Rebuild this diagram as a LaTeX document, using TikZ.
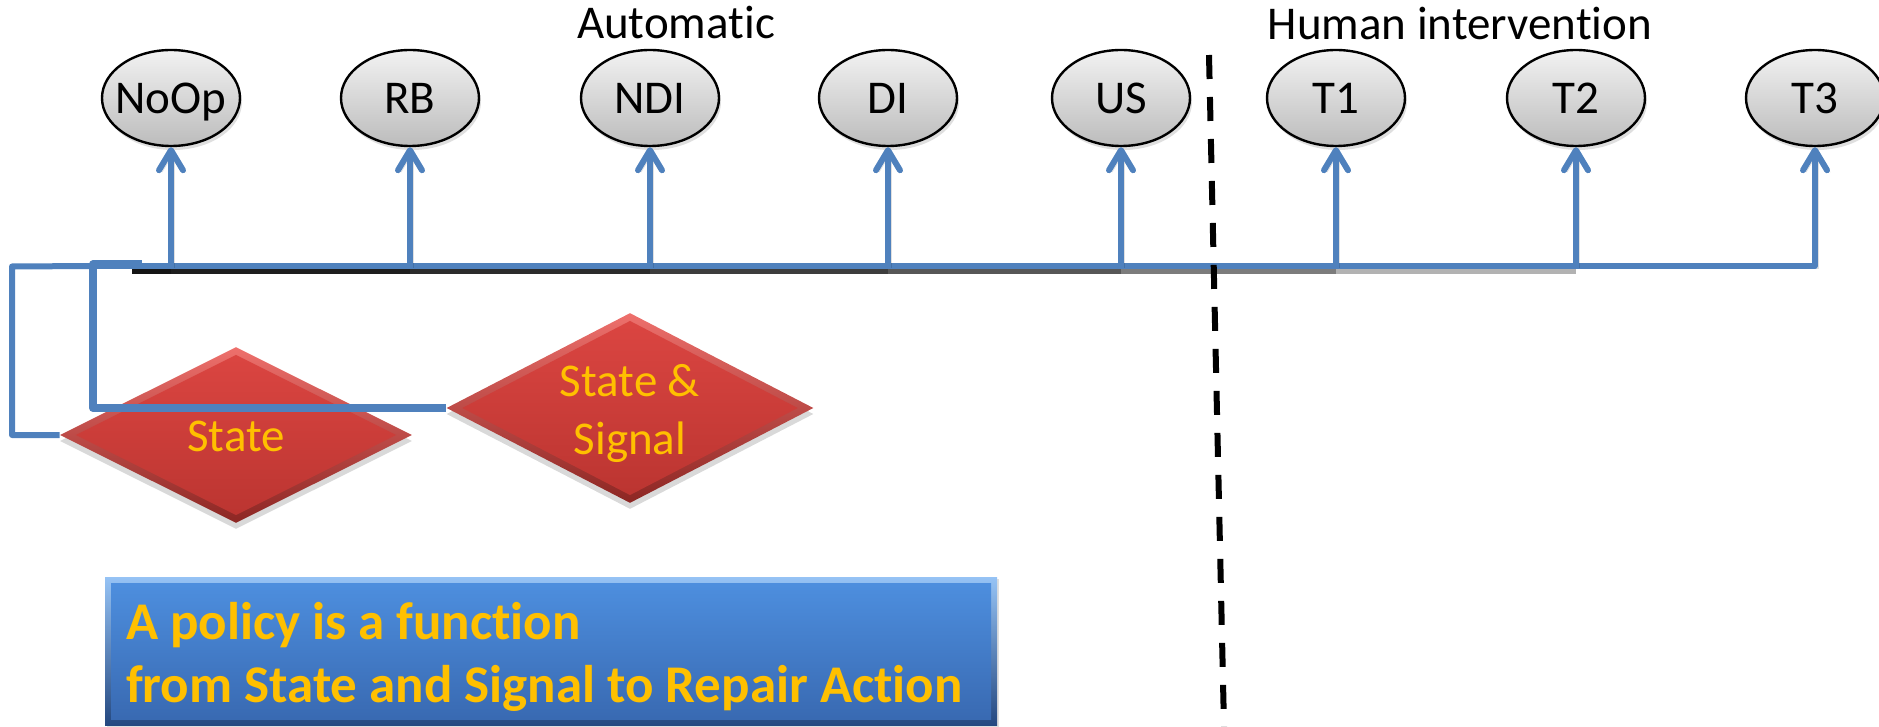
\documentclass[tikz,border=0pt]{standalone}
\usepackage{fontspec}
\setmainfont{Carlito}[Ligatures=NoCommon]
\usetikzlibrary{arrows.meta,shapes.geometric,shadows,calc}

\definecolor{wire}{RGB}{79,129,189}
\definecolor{gold}{RGB}{255,192,0}
\definecolor{redface1}{RGB}{220,70,66}
\definecolor{redface2}{RGB}{186,52,48}
\definecolor{redrim1}{RGB}{238,112,108}
\definecolor{redrim2}{RGB}{140,38,35}
\definecolor{blueface1}{RGB}{78,144,224}
\definecolor{blueface2}{RGB}{56,104,176}
\definecolor{bluerim1}{RGB}{150,195,245}
\definecolor{bluerim2}{RGB}{36,72,128}
\definecolor{grey1}{RGB}{242,242,242}
\definecolor{grey2}{RGB}{188,188,188}

\tikzset{
  % repair actions
  act/.style={ellipse, draw=black, line width=1.2pt,
    top color=grey1, bottom color=grey2,
    minimum width=69pt, minimum height=48pt, inner sep=0pt,
    text height=20pt, text depth=4pt,
    font=\fontsize{23.5}{28}\selectfont,
    drop shadow={opacity=0.25, shadow xshift=1pt, shadow yshift=-2pt}},
  % decision diamonds with a bevelled rim
  cond/.style={diamond, inner sep=0pt, text=gold,
    top color=redrim1, bottom color=redrim2,
    font=\fontsize{23.5}{28.8}\selectfont,
    drop shadow={opacity=0.3, shadow xshift=0pt, shadow yshift=-3pt},
    path picture={
      \shade[top color=redface1, bottom color=redface2]
        ($(path picture bounding box.north)+(0,-3.9pt)$) --
        ($(path picture bounding box.east)+(-7.8pt,0)$) --
        ($(path picture bounding box.south)+(0,3.9pt)$) --
        ($(path picture bounding box.west)+(7.8pt,0)$) -- cycle;
    }},
  policy/.style={rectangle, inner sep=0pt,
    minimum width=446pt, minimum height=74pt,
    top color=bluerim1, bottom color=bluerim2,
    drop shadow={opacity=0.25, shadow xshift=1pt, shadow yshift=-1pt},
    path picture={
      \shade[top color=blueface1, bottom color=blueface2]
        ($(path picture bounding box.north west)+(3pt,-3pt)$) rectangle
        ($(path picture bounding box.south east)+(-3pt,3pt)$);
    }},
  policytext/.style={inner sep=0pt, align=left, text=gold,
    font=\bfseries\fontsize{26.5}{31.5}\selectfont},
  heading/.style={font=\fontsize{23.5}{28}\selectfont, inner sep=0pt},
  wire/.style={draw=wire, line width=3pt, line join=round},
  tip/.style={-{Straight Barb[length=10pt, width=12pt, round]}},
  lift/.style={wire, tip,
    preaction={draw=black, opacity=0.12,
      transform canvas={xshift=1.5pt, yshift=-1pt}}},
  busshadow/.style={draw=black, opacity=0.3, line width=3pt},
  divider/.style={draw=black, line width=3pt, dash pattern=on 12pt off 9pt}
}

\begin{document}
\begin{tikzpicture}[x=0.5pt, y=-0.5pt]
\useasboundingbox (0,0) rectangle (1879,727);

% headings
\node[heading, anchor=base] (automatic) at (676,39) {Automatic};
\node[heading, anchor=base] (human) at (1460,40) {Human intervention};

% repair actions
\foreach \n/\x/\t in {noop/171/NoOp, rb/410/RB, ndi/650/NDI, di/888/DI,
    us/1121/US, t1/1336/T1, t2/1576/T2, t3/1815/T3}
  \node[act] (\n) at (\x,98) {\makebox[0pt]{\t}};

% inputs
\node[cond, minimum width=176pt, minimum height=88pt,
      text height=20pt, text depth=4pt] (st) at (236,435)
  {\makebox[0pt]{State}};
\node[cond, minimum width=183.5pt, minimum height=95pt,
      text height=50pt, text depth=4pt] (sig) at (630,408)
  {\makebox[0pt]{\parbox[b]{150pt}{\centering State \&\\Signal}}};

% policy statement
\node[policy] (pol) at (551,651) {};
\node[policytext, anchor=west] (poltext) at ($(pol.west)+(10.5pt,-3pt)$)
  {A policy is a function\\from State and Signal to Repair Action};

% bus routing points
\coordinate (oc) at (12,266.5);
\coordinate (ic) at (93,264.5);
\coordinate (icend) at (142,264.5);
\coordinate (bus0) at (93,266);
\coordinate (sh0) at (132,271.5);

% shadow under the bus
\foreach \n in {noop,rb,ndi,di,us,t1,t2}
  \draw[busshadow] (sh0) -- (sh0 -| \n);

% loops from the inputs into the bus
\draw[wire] (st.west) -| (oc) -- (bus0);
\draw[wire, line width=4pt] (sig.west) -| (ic) -- (icend);

% bus and branches
\draw[lift] (bus0) -| (t3.south);
\foreach \n in {noop,rb,ndi,di,us,t1,t2}
  \draw[lift] (\n.south |- bus0) -- (\n.south);

% automatic / human divider
\coordinate (dtop) at (1209,55);
\coordinate (dbot) at (1224.3,740);
\draw[divider] (dtop) -- (dbot);
\end{tikzpicture}
\end{document}
